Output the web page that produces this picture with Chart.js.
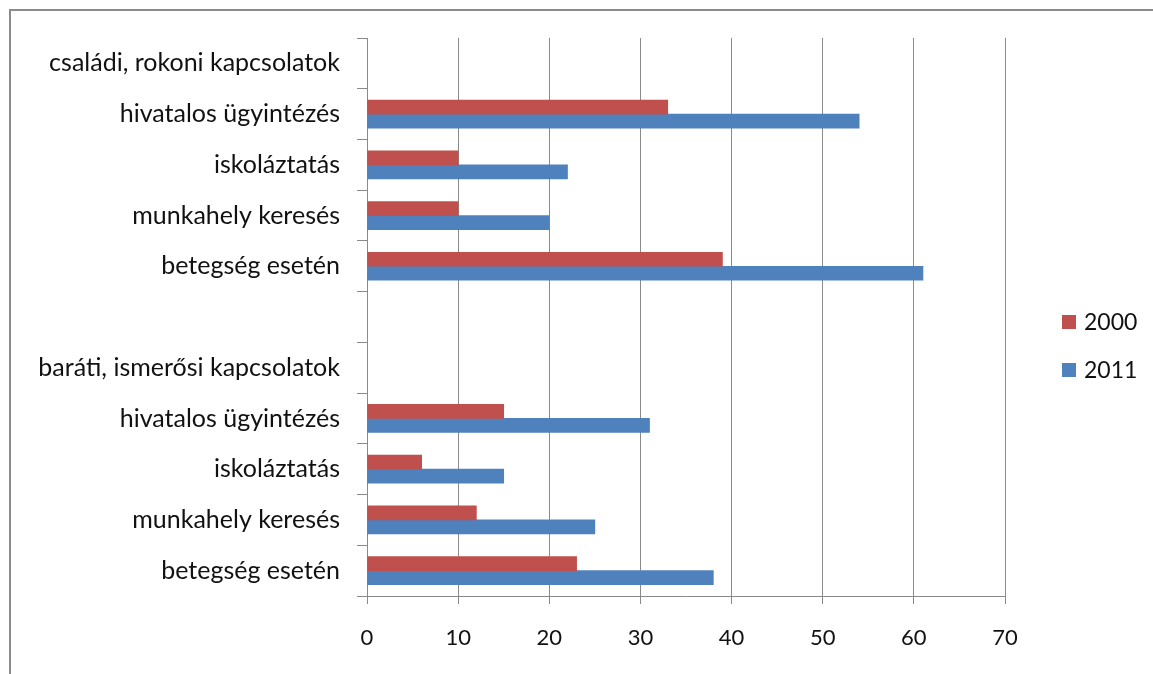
<!DOCTYPE html>
<html lang="hu">
<head>
<meta charset="utf-8">
<title>Kapcsolatok igénybevétele, 2000 és 2011</title>
<script src="https://cdn.jsdelivr.net/npm/chart.js@4.4.1/dist/chart.umd.min.js"></script>
<style>
  html, body { margin: 0; padding: 0; background: #ffffff; }
  #wrap { position: relative; width: 1153px; height: 674px; }
</style>
</head>
<body>
<div id="wrap"><canvas id="chart" width="1153" height="674"></canvas></div>
<script>
// Categories, top to bottom (the blank entry separates the two groups)
const categories = [
  'családi, rokoni kapcsolatok',
  'hivatalos ügyintézés',
  'iskoláztatás',
  'munkahely keresés',
  'betegség esetén',
  '',
  'baráti, ismerősi kapcsolatok',
  'hivatalos ügyintézés',
  'iskoláztatás',
  'munkahely keresés',
  'betegség esetén'
];

// Series values (null = heading rows without bars)
const values2000 = [null, 33, 10, 10, 39, null, null, 15, 6, 12, 23];
const values2011 = [null, 54, 22, 20, 61, null, null, 31, 15, 25, 38];

const seriesNames = ['2000', '2011'];
const xTicks = [0, 10, 20, 30, 40, 50, 60, 70];

const FONT = 'Lato, "Open Sans", sans-serif';
const GRID = '#8a8a8a';

// Outer frame of the chart object
const framePlugin = {
  id: 'frame',
  beforeDraw(chart) {
    const ctx = chart.ctx;
    ctx.save();
    ctx.strokeStyle = '#8c8c8c';
    ctx.lineWidth = 2;
    ctx.beginPath();
    ctx.moveTo(10, chart.height + 5);
    ctx.lineTo(10, 10);
    ctx.lineTo(chart.width + 5, 10);
    ctx.stroke();
    ctx.restore();
  }
};

// Legend drawn beside the plot, using the chart's own legend items
const sideLegend = {
  id: 'sideLegend',
  afterDraw(chart) {
    const ctx = chart.ctx;
    const items = chart.options.plugins.legend.labels.generateLabels(chart);
    const x0 = chart.chartArea.right + 57;
    const yCenter = 346;
    const step = 48;
    ctx.save();
    ctx.font = '23px ' + FONT;
    ctx.textBaseline = 'middle';
    ctx.textAlign = 'left';
    items.forEach((it, i) => {
      const y = yCenter + (i - (items.length - 1) / 2) * step;
      ctx.fillStyle = it.fillStyle;
      ctx.fillRect(x0, y - 7, 14, 14);
      ctx.fillStyle = '#111';
      ctx.fillText(it.text, x0 + 22, y + 1);
    });
    ctx.restore();
  }
};

new Chart(document.getElementById('chart'), {
  type: 'bar',
  data: {
    labels: categories,
    datasets: [
      { label: seriesNames[0], data: values2000, backgroundColor: '#C0504D' },
      { label: seriesNames[1], data: values2011, backgroundColor: '#4F81BD' }
    ]
  },
  options: {
    indexAxis: 'y',
    responsive: false,
    animation: false,
    devicePixelRatio: 1,
    layout: { padding: { top: 38, right: 148, bottom: 0, left: 0 } },
    datasets: { bar: { barThickness: 14 } },
    plugins: {
      legend: { display: false },
      tooltip: { enabled: false }
    },
    scales: {
      x: {
        min: xTicks[0],
        max: xTicks[xTicks.length - 1],
        afterBuildTicks(scale) { scale.ticks = xTicks.map(v => ({ value: v })); },
        afterFit(scale) { scale.height = 78; },
        grid: { color: GRID, lineWidth: 1, tickLength: 8, drawTicks: true },
        border: { color: GRID, width: 1 },
        ticks: { color: '#111', padding: 21, font: { family: FONT, size: 22 } }
      },
      y: {
        afterFit(scale) { scale.width = 367; },
        grid: { drawOnChartArea: false, offset: true, tickLength: 10, color: GRID },
        border: { color: GRID, width: 1 },
        ticks: { color: '#111', padding: 17, autoSkip: false, font: { family: FONT, size: 25 } }
      }
    }
  },
  plugins: [framePlugin, sideLegend]
});
</script>
</body>
</html>
